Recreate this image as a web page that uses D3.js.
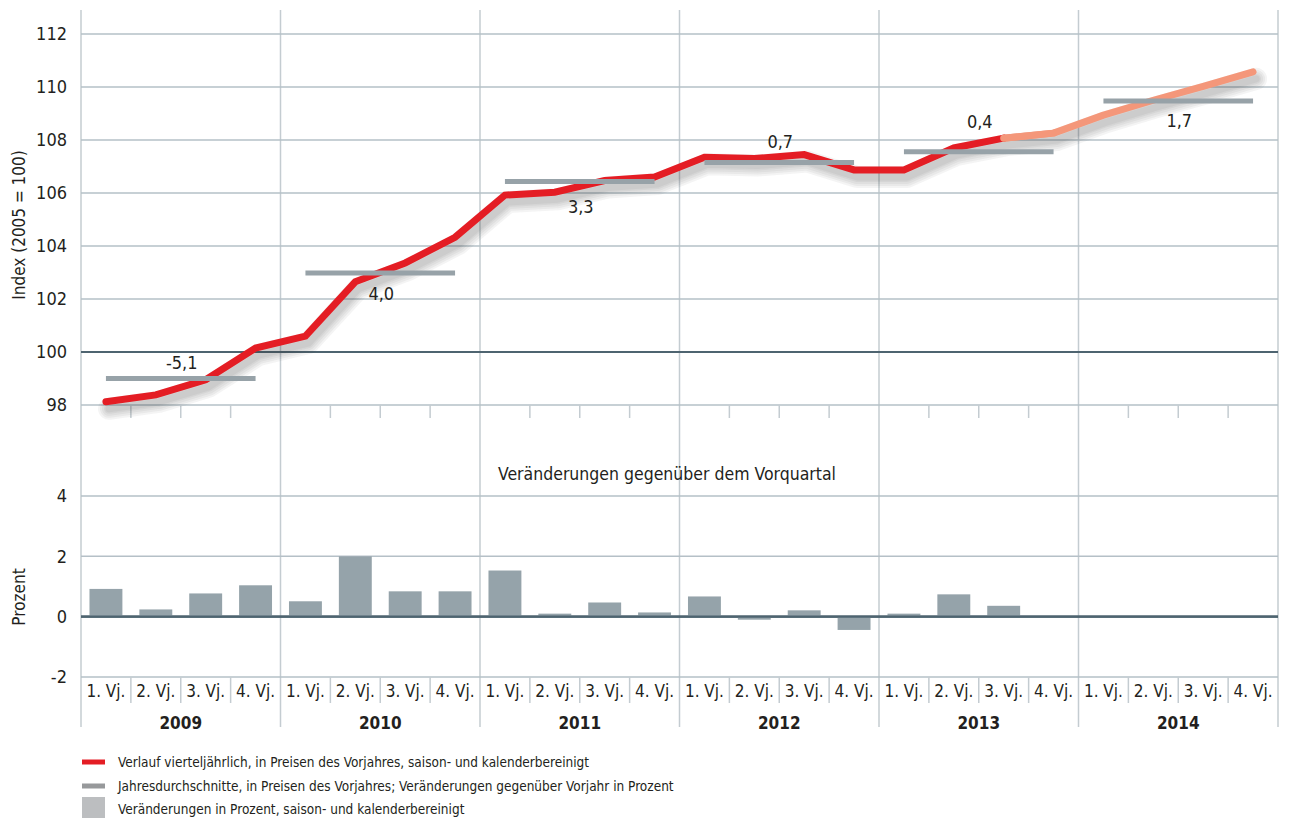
<!DOCTYPE html>
<html>
<head>
<meta charset="utf-8">
<script src="https://cdn.jsdelivr.net/npm/d3@7"></script>
<style>
  body { margin: 0; background: #fff; }
  svg text { font-family: "Liberation Sans Narrow", "DejaVu Sans Condensed", "Open Sans", sans-serif; fill: #231f20; }
</style>
</head>
<body>
<div id="container"></div>
<script>
 //-----------------------------DATA------------------------------//
 var years = ["2009", "2010", "2011", "2012", "2013", "2014"];
 var quarterNames = ["1. Vj.", "2. Vj.", "3. Vj.", "4. Vj."];

 // quarterly index, 2005 = 100 (from 2013 3. Vj. on = forecast)
 var indexValues = [98.12, 98.38, 98.95, 100.15,
                    100.6, 102.65, 103.36, 104.33,
                    105.92, 106.03, 106.47, 106.6,
                    107.35, 107.3, 107.45, 106.87,
                    106.87, 107.7, 108.07, 108.26,
                    108.94, 109.5, 110.02, 110.57];
 var forecastFrom = 18; // index of 2013 3. Vj., where the light line starts

 // annual averages and change against previous year
 var annualAvg = [99.0, 102.98, 106.43, 107.15, 107.56, 109.47];
 var annualChange = [-5.1, 4.0, 3.3, 0.7, 0.4, 1.7];

 // change against previous quarter, percent
 var qoqChange = [0.92, 0.24, 0.77, 1.04,
                  0.51, 2.0, 0.84, 0.84,
                  1.53, 0.1, 0.47, 0.14,
                  0.67, -0.1, 0.21, -0.44,
                  0.1, 0.74, 0.36];

 var topTicks = [98, 100, 102, 104, 106, 108, 110, 112];
 var bottomTicks = [-2, 0, 2, 4];

 var legendItems = [
   "Verlauf vierteljährlich, in Preisen des Vorjahres, saison- und kalenderbereinigt",
   "Jahresdurchschnitte, in Preisen des Vorjahres; Veränderungen gegenüber Vorjahr in Prozent",
   "Veränderungen in Prozent, saison- und kalenderbereinigt"
 ];

 //----------------------------SETUP------------------------------//
 var width = 1290;
 var height = 818;
 var left = 81, right = 1278;

 var red = "#e41d24", salmon = "#f4977a", avgGrey = "#97a2a8", barGrey = "#95a3aa";
 var gridCol = "#b5c0c7", darkCol = "#4e6470", vCol = "#c4ccd1";

 var svg = d3.select("div#container").append("svg")
     .attr("width", width)
     .attr("height", height);

 var quarterKeys = [];
 years.forEach(function(y) {
   quarterNames.forEach(function(q, i) { quarterKeys.push(y + "-" + i); });
 });

 //----------------------------SCALES-----------------------------//
 var xScale = d3.scaleBand().domain(quarterKeys).range([left, right]).padding(0);
 var xYear = d3.scaleBand().domain(years).range([left, right]).padding(0);
 var yTop = d3.scaleLinear().domain([98, 112]).range([405, 34]);
 var yBot = d3.scaleLinear().domain([-2, 4]).range([677, 496]);

 function xc(i) { return xScale(quarterKeys[i]) + xScale.bandwidth() / 2; }
 var fmt = function(v) { return v.toFixed(1).replace(".", ","); };

 //-----------------------------GRID------------------------------//
 // year separators, running through both panels
 svg.append("g").selectAll("line")
     .data(years.concat(["end"]))
     .enter().append("line")
     .attr("x1", function(d) { return d === "end" ? right : xYear(d); })
     .attr("x2", function(d) { return d === "end" ? right : xYear(d); })
     .attr("y1", 10).attr("y2", 727)
     .style("stroke", vCol).style("stroke-width", 1.5);

 svg.append("g").selectAll("line")
     .data(topTicks)
     .enter().append("line")
     .attr("x1", left).attr("x2", right)
     .attr("y1", d => yTop(d)).attr("y2", d => yTop(d))
     .style("stroke", d => d === 100 ? darkCol : gridCol)
     .style("stroke-width", d => d === 100 ? 1.8 : 1.5);

 // small quarter ticks under the top panel
 svg.append("g").selectAll("line")
     .data(quarterKeys.filter(function(k) { return k.slice(-1) !== "0"; }))
     .enter().append("line")
     .attr("x1", d => xScale(d)).attr("x2", d => xScale(d))
     .attr("y1", yTop(98)).attr("y2", yTop(98) + 13)
     .style("stroke", vCol).style("stroke-width", 1.5);

 svg.append("g").selectAll("line")
     .data(bottomTicks)
     .enter().append("line")
     .attr("x1", left).attr("x2", right)
     .attr("y1", d => yBot(d)).attr("y2", d => yBot(d))
     .style("stroke", d => d === 0 ? darkCol : gridCol)
     .style("stroke-width", d => d === 0 ? 2.2 : 1.5);

 //-----------------------------AXES------------------------------//
 var yAxisTop = d3.axisLeft(yTop).tickValues(topTicks).tickSize(0).tickPadding(14)
     .tickFormat(d => String(d));
 svg.append("g")
     .attr("transform", "translate(" + left + ",0)")
     .call(yAxisTop)
     .call(g => g.select(".domain").remove())
     .selectAll("text").style("font-size", "18px");

 var yAxisBot = d3.axisLeft(yBot).tickValues(bottomTicks).tickSize(0).tickPadding(14)
     .tickFormat(d => String(d));
 svg.append("g")
     .attr("transform", "translate(" + left + ",0)")
     .call(yAxisBot)
     .call(g => g.select(".domain").remove())
     .selectAll("text").style("font-size", "18px");

 svg.append("text")
     .attr("transform", "rotate(-90)")
     .attr("x", -225).attr("y", 25)
     .style("text-anchor", "middle").style("font-size", "17px")
     .text("Index (2005 = 100)");

 svg.append("text")
     .attr("transform", "rotate(-90)")
     .attr("x", -597).attr("y", 25)
     .style("text-anchor", "middle").style("font-size", "17px")
     .text("Prozent");

 // quarter cells and year labels
 svg.append("g").selectAll("line")
     .data(quarterKeys.filter(function(k) { return k.slice(-1) !== "0"; }))
     .enter().append("line")
     .attr("x1", d => xScale(d)).attr("x2", d => xScale(d))
     .attr("y1", yBot(-2)).attr("y2", yBot(-2) + 26)
     .style("stroke", vCol).style("stroke-width", 1.5);

 svg.append("g").selectAll("text")
     .data(quarterKeys)
     .enter().append("text")
     .attr("x", d => xScale(d) + xScale.bandwidth() / 2)
     .attr("y", 697)
     .style("text-anchor", "middle").style("font-size", "17px")
     .text(d => quarterNames[+d.slice(-1)]);

 svg.append("g").selectAll("text")
     .data(years)
     .enter().append("text")
     .attr("x", d => xYear(d) + xYear.bandwidth() / 2)
     .attr("y", 729)
     .style("text-anchor", "middle").style("font-size", "17px").style("font-weight", "bold")
     .text(d => d);

 svg.append("text")
     .attr("x", 667).attr("y", 480)
     .style("text-anchor", "middle").style("font-size", "17.5px")
     .text("Veränderungen gegenüber dem Vorquartal");

 //----------------------------BARS-------------------------------//
 var barW = xScale.bandwidth() * 0.66;
 svg.append("g").selectAll("rect")
     .data(qoqChange)
     .enter().append("rect")
     .attr("x", (d, i) => xc(i) - barW / 2)
     .attr("width", barW)
     .attr("y", d => yBot(Math.max(d, 0)))
     .attr("height", d => Math.abs(yBot(d) - yBot(0)))
     .style("fill", barGrey);

 // redraw zero line over the bars
 svg.append("line")
     .attr("x1", left).attr("x2", right)
     .attr("y1", yBot(0)).attr("y2", yBot(0))
     .style("stroke", darkCol).style("stroke-width", 2.2);

 //----------------------------LINES------------------------------//
 var line = d3.line()
     .x(function(d) { return xc(d.i); })
     .y(function(d) { return yTop(d.v); });

 var pts = indexValues.map(function(v, i) { return { i: i, v: v }; });

 // soft shadow: stacked translucent strokes under the line
 var shade = svg.append("g").attr("transform", "translate(3,7)");
 [22, 18, 14, 10, 7].forEach(function(w) {
   shade.append("path")
       .attr("d", line(pts))
       .style("fill", "none").style("stroke", "#3a3a3a")
       .style("stroke-opacity", 0.055)
       .style("stroke-width", w).style("stroke-linecap", "round").style("stroke-linejoin", "round");
 });

 var lines = svg.append("g");

 lines.append("path")
     .attr("d", line(pts.slice(forecastFrom)))
     .style("fill", "none").style("stroke", salmon)
     .style("stroke-width", 7).style("stroke-linecap", "round").style("stroke-linejoin", "round");

 lines.append("path")
     .attr("d", line(pts.slice(0, forecastFrom + 1)))
     .style("fill", "none").style("stroke", red)
     .style("stroke-width", 7).style("stroke-linecap", "round").style("stroke-linejoin", "miter");

 // light line cap over the junction
 lines.append("path")
     .attr("d", line(pts.slice(forecastFrom, forecastFrom + 2)))
     .style("fill", "none").style("stroke", salmon)
     .style("stroke-width", 7).style("stroke-linecap", "round");

 // annual averages, drawn over the quarterly line
 svg.append("g").selectAll("line")
     .data(annualAvg)
     .enter().append("line")
     .attr("x1", (d, i) => xc(i * 4))
     .attr("x2", (d, i) => xc(i * 4 + 3))
     .attr("y1", d => yTop(d)).attr("y2", d => yTop(d))
     .style("stroke", avgGrey).style("stroke-width", 5);

 // change labels: above or below the average bar
 var labelOffset = [-10, 27, 31, -15, -24, 26];
 svg.append("g").selectAll("text")
     .data(annualChange)
     .enter().append("text")
     .attr("x", (d, i) => xYear(years[i]) + xYear.bandwidth() / 2 + 1)
     .attr("y", (d, i) => yTop(annualAvg[i]) + labelOffset[i])
     .style("text-anchor", "middle").style("font-size", "18px")
     .text(d => fmt(d));

 //----------------------------LEGEND-----------------------------//
 var legend = svg.append("g").attr("transform", "translate(82,0)");
 legend.append("line").attr("x1", 0).attr("x2", 23).attr("y1", 762).attr("y2", 762)
     .style("stroke", red).style("stroke-width", 5);
 legend.append("line").attr("x1", 0).attr("x2", 23).attr("y1", 786).attr("y2", 786)
     .style("stroke", "#97999b").style("stroke-width", 5);
 legend.append("rect").attr("x", 0).attr("y", 797).attr("width", 23).attr("height", 21)
     .style("fill", "#bcbec0");
 legend.selectAll("text.lg")
     .data(legendItems)
     .enter().append("text")
     .attr("class", "lg")
     .attr("x", 36)
     .attr("y", (d, i) => 767 + i * 23.5)
     .style("font-size", "13.5px")
     .text(d => d);
</script>
</body>
</html>
